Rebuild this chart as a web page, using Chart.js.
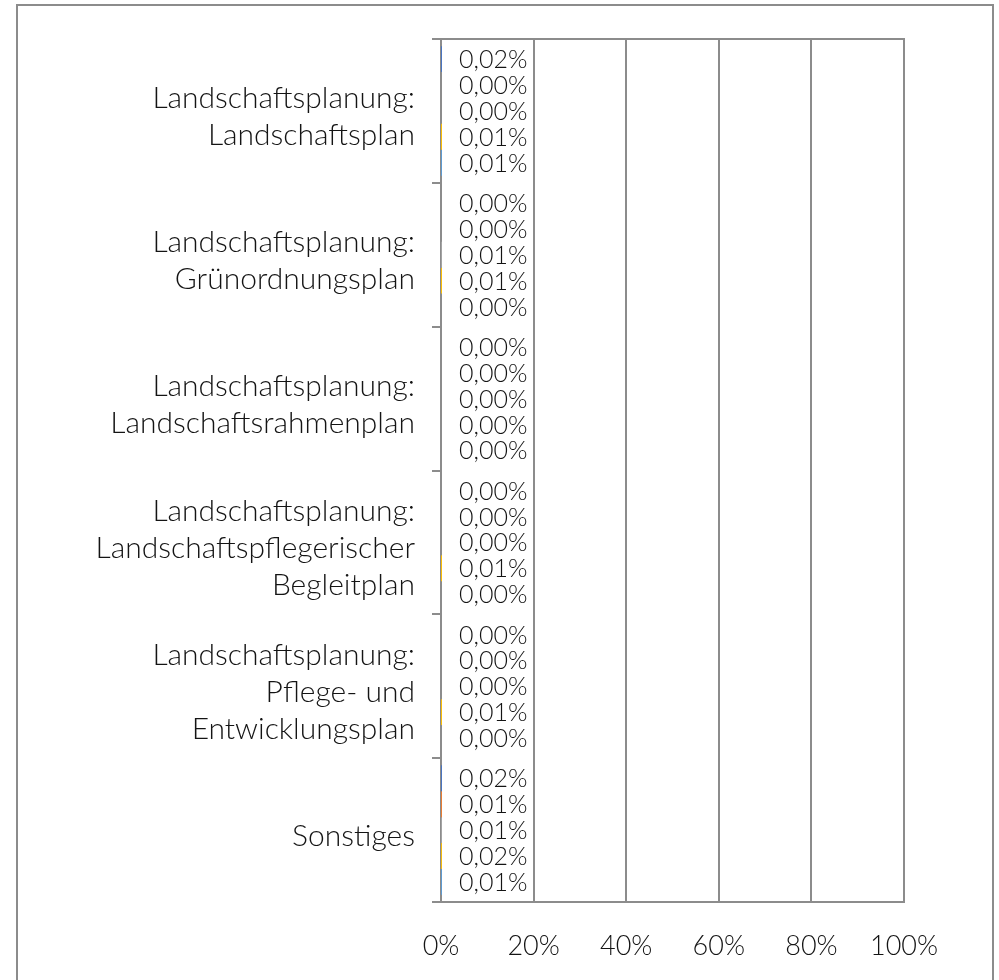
<!DOCTYPE html>
<html lang="de">
<head>
<meta charset="utf-8">
<title>Landschaftsplanung</title>
<script src="https://cdn.jsdelivr.net/npm/chart.js@4"></script>
<style>
    html, body { margin: 0; padding: 0; background: #fff; overflow: hidden; }
    #wrap { position: relative; width: 999px; height: 980px; }
    #frame { position: absolute; left: 16px; top: 4px; width: 978px; height: 1000px; border: 2px solid #8c8c8c; box-sizing: border-box; }
    #chart { position: absolute; left: 0; top: 0; }
</style>
</head>
<body>
<div id="wrap">
    <div id="frame"></div>
    <canvas id="chart" width="999" height="980"></canvas>
</div>
<script>
// Anteile je Planungsart, fünf Reihen pro Kategorie (Werte in %)
const categories = [
    ['Landschaftsplanung:', 'Landschaftsplan'],
    ['Landschaftsplanung:', 'Grünordnungsplan'],
    ['Landschaftsplanung:', 'Landschaftsrahmenplan'],
    ['Landschaftsplanung:', 'Landschaftspflegerischer', 'Begleitplan'],
    ['Landschaftsplanung:', 'Pflege- und', 'Entwicklungsplan'],
    ['Sonstiges'],
];
const seriesNames = ['Reihe 1', 'Reihe 2', 'Reihe 3', 'Reihe 4', 'Reihe 5'];
const series1 = [0.02, 0.00, 0.00, 0.00, 0.00, 0.02];
const series2 = [0.00, 0.00, 0.00, 0.00, 0.00, 0.01];
const series3 = [0.00, 0.01, 0.00, 0.00, 0.00, 0.01];
const series4 = [0.01, 0.01, 0.00, 0.01, 0.01, 0.02];
const series5 = [0.01, 0.00, 0.00, 0.00, 0.00, 0.01];
const xTicks = [0, 20, 40, 60, 80, 100];
const seriesColors = ['#4472c4', '#ed7d31', '#a5a5a5', '#ffc000', '#5b9bd5'];

const FONT = 'Lato, "Open Sans", "Noto Sans", sans-serif';
const TEXT = '#141414';
const GRID = '#8c8c8c';

const fmt = (v) => v.toFixed(2).replace('.', ',') + '%';

// top edge of the plot area (bottom edge is the x axis border)
const plotFrame = {
    id: 'plotFrame',
    afterDraw(chart) {
        const { ctx, chartArea } = chart;
        ctx.save();
        ctx.strokeStyle = GRID;
        ctx.lineWidth = 2;
        ctx.beginPath();
        ctx.moveTo(chartArea.left - 9, chartArea.top);
        ctx.lineTo(chartArea.right + 1, chartArea.top);
        ctx.stroke();
        ctx.restore();
    }
};

// value labels next to each bar end
const valueLabels = {
    id: 'valueLabels',
    afterDatasetsDraw(chart) {
        const { ctx } = chart;
        ctx.save();
        ctx.font = '300 25px ' + FONT;
        ctx.fillStyle = TEXT;
        ctx.textAlign = 'left';
        ctx.textBaseline = 'middle';
        chart.data.datasets.forEach((ds, di) => {
            chart.getDatasetMeta(di).data.forEach((bar, i) => {
                ctx.fillText(fmt(ds.data[i]), bar.x + 18, bar.y + 1);
            });
        });
        ctx.restore();
    }
};

const allSeries = [series1, series2, series3, series4, series5];

new Chart(document.getElementById('chart'), {
    type: 'bar',
    data: {
        labels: categories,
        datasets: allSeries.map((data, i) => ({
            label: seriesNames[i],
            data: data,
            backgroundColor: seriesColors[i],
            categoryPercentage: 0.9,
            barPercentage: 1,
        })),
    },
    options: {
        indexAxis: 'y',
        responsive: false,
        animation: false,
        devicePixelRatio: 1,
        layout: { padding: { left: 0, top: 39, right: 95, bottom: 0 } },
        plugins: { legend: { display: false }, tooltip: { enabled: false } },
        scales: {
            x: {
                min: 0,
                max: 100,
                afterBuildTicks: (scale) => { scale.ticks = xTicks.map((v) => ({ value: v })); },
                afterFit: (scale) => { scale.height = 78; },
                grid: { color: GRID, lineWidth: 2, drawTicks: false },
                border: { display: true, color: GRID, width: 2 },
                ticks: {
                    padding: 28,
                    color: TEXT,
                    font: { family: FONT, size: 27, weight: 300 },
                    callback: (v) => v + '%',
                },
            },
            y: {
                offset: true,
                afterFit: (scale) => { scale.width = 441; },
                grid: { drawOnChartArea: false, color: GRID, lineWidth: 2, tickLength: 9, offset: true },
                border: { display: true, color: GRID, width: 2 },
                ticks: {
                    padding: 17,
                    labelOffset: 6,
                    color: TEXT,
                    font: { family: FONT, size: 30, weight: 300, lineHeight: 1.22 },
                },
            },
        },
    },
    plugins: [plotFrame, valueLabels],
});
</script>
</body>
</html>
